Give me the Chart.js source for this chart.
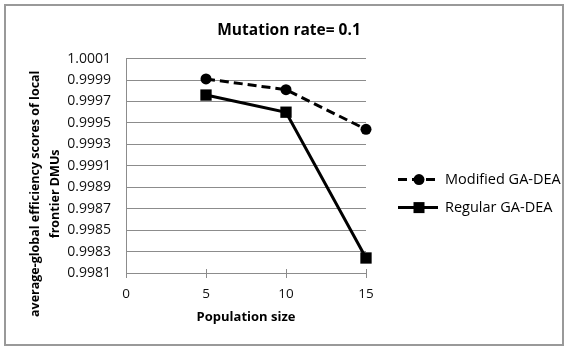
<!DOCTYPE html>
<html>
<head>
<meta charset="utf-8">
<script src="https://cdn.jsdelivr.net/npm/chart.js@4.4.1/dist/chart.umd.min.js"></script>
<style>
  html, body { margin: 0; padding: 0; background: #fff; }
  #chart { display: block; }
</style>
</head>
<body>
<canvas id="chart" width="565" height="348"></canvas>
<script>
// population sizes on x, average efficiency per variant on y
const population_sizes = [5, 10, 15];
const modified_ga_dea = [0.99991, 0.99981, 0.99944];
const regular_ga_dea = [0.99976, 0.99960, 0.99824];
const series_names = ['Modified GA-DEA', 'Regular GA-DEA'];
const x_ticks = [0, 5, 10, 15];
const y_ticks = [0.9981, 0.9983, 0.9985, 0.9987, 0.9989, 0.9991, 0.9993, 0.9995, 0.9997, 0.9999, 1.0001];
const chart_title = 'Mutation rate= 0.1';
const x_title = 'Population size';
const y_title = ['average-global efficiency scores of local', 'frontier DMUs'];

const FONT = "'Open Sans', 'Liberation Sans', sans-serif";
const GRID = '#8c8c8c';

function points(values) {
  return population_sizes.map((x, i) => ({x: x, y: values[i]}));
}

// outer frame, cross ticks on the x axis, rotated y title and the line+marker legend
const frame_plugin = {
  id: 'frame',
  beforeDraw(chart) {
    let ctx = chart.ctx;
    ctx.save();
    ctx.fillStyle = '#fff';
    ctx.fillRect(0, 0, chart.width, chart.height);
    ctx.strokeStyle = '#999';
    ctx.lineWidth = 2;
    ctx.strokeRect(5, 5, chart.width - 7, chart.height - 8);
    ctx.restore();
  },
  afterDraw(chart) {
    let ctx = chart.ctx;
    let area = chart.chartArea;
    let xs = chart.scales.x;

    ctx.save();
    ctx.strokeStyle = GRID;
    ctx.lineWidth = 1;
    x_ticks.slice(1).forEach(v => {
      let px = Math.round(xs.getPixelForValue(v)) + 0.5;
      ctx.beginPath();
      ctx.moveTo(px, area.bottom - 4);
      ctx.lineTo(px, area.bottom);
      ctx.stroke();
    });
    ctx.restore();

    ctx.save();
    ctx.fillStyle = '#000';
    ctx.font = 'bold 12.5px ' + FONT;
    ctx.textAlign = 'center';
    ctx.textBaseline = 'middle';
    let cy = (area.top + area.bottom) / 2 + 28;
    y_title.forEach((line, i) => {
      ctx.save();
      ctx.translate(area.left - 91 + i * 20, cy);
      ctx.rotate(-Math.PI / 2);
      ctx.fillText(line, 0, 0);
      ctx.restore();
    });
    ctx.restore();

    let lx = area.right + 32;
    let ly = area.top + 121;
    chart.data.datasets.forEach((ds, i) => {
      let y = ly + i * 28;
      ctx.save();
      ctx.strokeStyle = ds.borderColor;
      ctx.lineWidth = ds.borderWidth;
      ctx.setLineDash(ds.borderDash || []);
      ctx.beginPath();
      ctx.moveTo(lx, y);
      ctx.lineTo(lx + 40, y);
      ctx.stroke();
      ctx.setLineDash([]);
      ctx.fillStyle = ds.pointBackgroundColor;
      if (ds.pointStyle == 'circle') {
        ctx.beginPath();
        ctx.arc(lx + 21, y, 5.5, 0, Math.PI * 2);
        ctx.fill();
      } else {
        ctx.fillRect(lx + 21 - 5.5, y - 5.5, 11, 11);
      }
      ctx.fillStyle = '#000';
      ctx.font = '14.5px ' + FONT;
      ctx.textBaseline = 'middle';
      ctx.fillText(ds.label, lx + 47, y);
      ctx.restore();
    });
  }
};

new Chart(document.getElementById('chart'), {
  type: 'line',
  data: {
    datasets: [
      {
        label: series_names[0],
        data: points(modified_ga_dea),
        borderColor: '#000',
        borderWidth: 3,
        borderDash: [9, 5],
        pointStyle: 'circle',
        pointRadius: 5.5,
        pointBackgroundColor: '#000',
        pointBorderWidth: 0,
        clip: false
      },
      {
        label: series_names[1],
        data: points(regular_ga_dea),
        borderColor: '#000',
        borderWidth: 3,
        pointStyle: 'rect',
        pointRadius: 8,
        pointBackgroundColor: '#000',
        pointBorderWidth: 0,
        clip: false
      }
    ]
  },
  options: {
    responsive: false,
    animation: false,
    layout: { padding: { left: 13, right: 0, top: 0, bottom: 0 } },
    plugins: {
      legend: { display: false },
      tooltip: { enabled: false },
      title: {
        display: true,
        text: chart_title,
        color: '#000',
        font: { family: FONT, size: 15.5, weight: 'bold' },
        padding: { top: 21, bottom: 19 }
      }
    },
    scales: {
      x: {
        type: 'linear',
        min: x_ticks[0],
        max: x_ticks[x_ticks.length - 1],
        afterBuildTicks: s => { s.ticks = x_ticks.map(v => ({value: v})); },
        afterFit: s => { s.height = 75; },
        grid: { drawOnChartArea: false, color: GRID, tickLength: 5 },
        border: { color: GRID, width: 1 },
        ticks: { color: '#111', padding: 8, font: { family: FONT, size: 13.5 } },
        title: {
          display: true,
          text: x_title,
          color: '#000',
          font: { family: FONT, size: 13, weight: 'bold' },
          padding: { top: 0, bottom: 23 }
        }
      },
      y: {
        min: y_ticks[0],
        max: y_ticks[y_ticks.length - 1],
        afterBuildTicks: s => { s.ticks = y_ticks.map(v => ({value: v})); },
        afterFit: s => { s.width = 113; },
        grid: { color: GRID, drawTicks: false },
        border: { color: GRID, width: 1 },
        ticks: {
          color: '#111',
          padding: 15,
          font: { family: FONT, size: 14 },
          callback: v => v.toFixed(4)
        }
      },
      // empty right-hand axis that keeps room for the legend
      legend_space: {
        type: 'linear',
        position: 'right',
        grid: { display: false },
        border: { display: false },
        ticks: { display: false },
        afterFit: s => { s.width = 199; }
      }
    }
  },
  plugins: [frame_plugin]
});
</script>
</body>
</html>
